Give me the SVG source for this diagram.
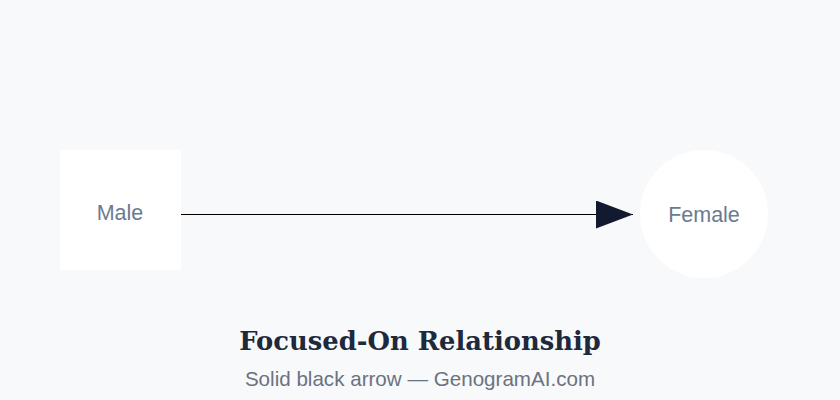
<svg xmlns="http://www.w3.org/2000/svg" width="840" height="400" viewBox="0 0 840 400">
<style>
.bg{fill:#f8f9fb}
.node{fill:#ffffff}
.lbl{font-family:"Liberation Sans",Arial,sans-serif;font-size:21.5px;fill:#6b7a90;text-anchor:middle}
.edge{stroke:#000000;stroke-width:1;fill:none}
.title{font-family:"DejaVu Serif",Georgia,serif;font-weight:bold;font-size:25.8px;fill:#1e293b;text-anchor:middle}
.sub{font-family:"Liberation Sans",Arial,sans-serif;font-size:20.6px;fill:#6b7280;text-anchor:middle}
</style>
<defs>
<marker id="arrow" markerWidth="37" markerHeight="28" refX="37" refY="14" orient="auto" markerUnits="userSpaceOnUse">
<path d="M0,0 L37,14 L0,28 Z" fill="#111a2e"/>
</marker>
</defs>
<rect class="bg" x="0" y="0" width="840" height="400"/>
<g id="connectors">
<line class="edge" x1="180" y1="214.5" x2="633" y2="214.5" marker-end="url(#arrow)"/>
</g>
<g id="male">
<rect class="node" x="60" y="150" width="121" height="120"/>
<text class="lbl" x="120" y="220">Male</text>
</g>
<g id="female">
<circle class="node" cx="704" cy="214" r="64"/>
<text class="lbl" x="704" y="222">Female</text>
</g>
<text class="title" x="420" y="350">Focused-On Relationship</text>
<text class="sub" x="420" y="386">Solid black arrow — GenogramAI.com</text>
</svg>
